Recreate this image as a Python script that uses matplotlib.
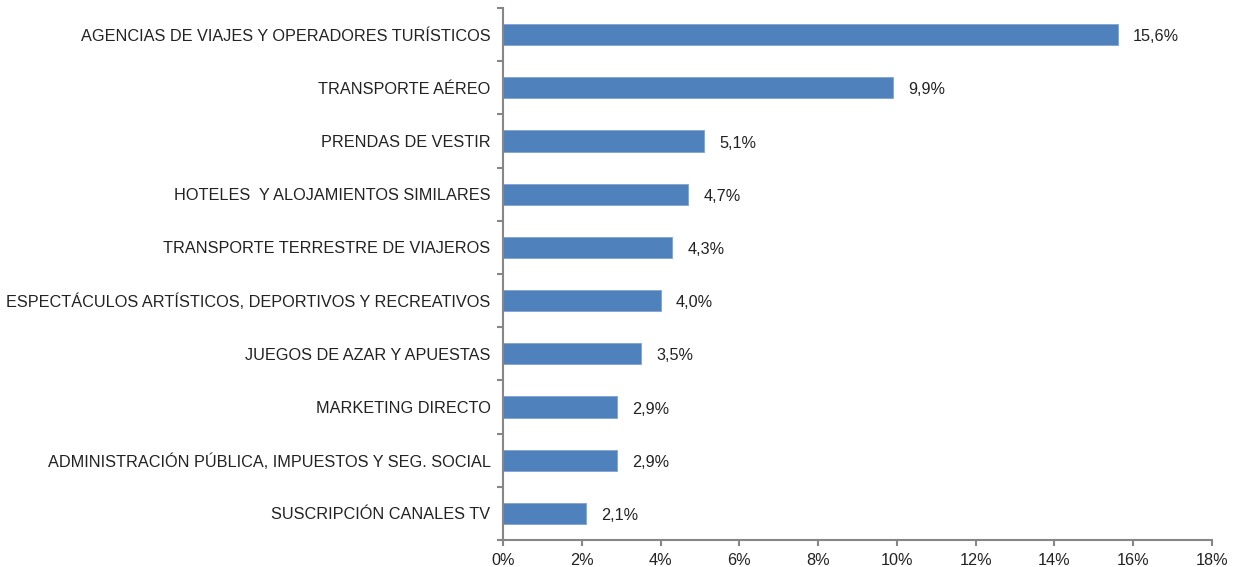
import numpy as np
import matplotlib.pyplot as plt
from matplotlib.ticker import FixedLocator, FuncFormatter

categories = [
    "AGENCIAS DE VIAJES Y OPERADORES TURÍSTICOS",
    "TRANSPORTE AÉREO",
    "PRENDAS DE VESTIR",
    "HOTELES  Y ALOJAMIENTOS SIMILARES",
    "TRANSPORTE TERRESTRE DE VIAJEROS",
    "ESPECTÁCULOS ARTÍSTICOS, DEPORTIVOS Y RECREATIVOS",
    "JUEGOS DE AZAR Y APUESTAS",
    "MARKETING DIRECTO",
    "ADMINISTRACIÓN PÚBLICA, IMPUESTOS Y SEG. SOCIAL",
    "SUSCRIPCIÓN CANALES TV",
]
values = [15.6, 9.9, 5.1, 4.7, 4.3, 4.0, 3.5, 2.9, 2.9, 2.1]
value_labels = ["15,6%", "9,9%", "5,1%", "4,7%", "4,3%", "4,0%", "3,5%", "2,9%", "2,9%", "2,1%"]

plt.rcParams['font.family'] = ['Liberation Sans', 'DejaVu Sans']
axis_grey = "#868686"
fs = 11.7

fig = plt.figure(figsize=(12.43, 5.67), dpi=100)
ax = fig.add_axes([0.4047, 0.0476, 0.9751 - 0.4047, 0.9859 - 0.0476])

n = len(categories)
y = np.arange(n)[::-1]
ax.barh(y, values, height=0.4, color="#4F81BD", edgecolor="#7FA3D1", linewidth=0.6)

for yi, v, lab in zip(y, values, value_labels):
    ax.annotate(lab, (v, yi), xytext=(11, -1.5), textcoords="offset points",
                va="center", ha="left", fontsize=fs, color="#222222")

ax.set_xlim(0, 18)
ax.set_ylim(-0.5, n - 0.5)
ax.set_xticks(np.arange(0, 19, 2))
ax.xaxis.set_major_formatter(FuncFormatter(lambda v, p: f"{int(v)}%"))

ax.set_yticks(y)
ax.set_yticklabels(categories)
ax.yaxis.set_minor_locator(FixedLocator(np.arange(n + 1) - 0.5))
ax.tick_params(axis="y", which="major", length=0, pad=9, labelsize=fs, labelcolor="#222222")
ax.tick_params(axis="y", which="minor", length=4, width=1.5, color=axis_grey)
ax.tick_params(axis="x", which="major", length=4, width=1.5, color=axis_grey,
               labelsize=fs, labelcolor="#222222", pad=5)

for s in ["top", "right"]:
    ax.spines[s].set_visible(False)
for s in ["left", "bottom"]:
    ax.spines[s].set_color(axis_grey)
    ax.spines[s].set_linewidth(1.5)

fig.savefig("out.png", dpi=100)
